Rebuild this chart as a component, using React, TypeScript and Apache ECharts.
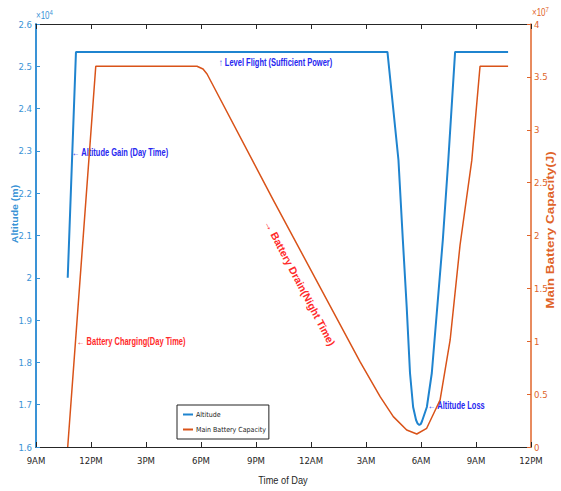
import React, { useEffect, useRef } from "react";
import * as echarts from "echarts";

// Hours after 9AM
const xTickLabels = ["9AM", "12PM", "3PM", "6PM", "9PM", "12AM", "3AM", "6AM", "9AM", "12PM"];

const altitudeHours = [1.73, 2.18, 19.17, 19.77, 20.01, 20.22, 20.4, 20.57, 20.73, 20.81, 20.91, 20.99, 21.06, 21.32, 21.59, 22.19, 22.49, 22.86, 25.75];
const altitudeMeters = [20000, 25340, 25340, 22785, 20894, 19310, 17749, 16946, 16638, 16556, 16520, 16544, 16615, 16946, 17749, 20894, 22785, 25340, 25340];

const batteryHours = [1.73, 3.26, 8.78, 9.11, 9.33, 12.93, 17.68, 18.77, 19.49, 20.22, 20.77, 21.31, 22.04, 22.59, 23.13, 23.77, 24.22, 25.75];
const batteryJoules = [0, 3.6e7, 3.6e7, 3.574e7, 3.527e7, 2.34e7, 0.804e7, 0.476e7, 0.287e7, 0.161e7, 0.123e7, 0.177e7, 0.444e7, 1.012e7, 1.91e7, 2.71e7, 3.6e7, 3.6e7];

const BLUE = "#1f84cf";
const BLUE_AX = "#3a93d6";
const ORANGE = "#d95319";
const ORANGE_AX = "#e0642a";
const ANN_BLUE = "#2626f0";
const ANN_RED = "#ff2a2a";
const NARROW = "'Liberation Sans Narrow', 'DejaVu Sans Condensed', sans-serif";
const WIDE = "'Liberation Sans', Arial, sans-serif";

function trim(v: number): string {
  const s = v.toFixed(1);
  return s.endsWith(".0") ? s.slice(0, -2) : s;
}

function ann(text: string, x: number, y: number, fill: string) {
  return {
    type: "text",
    x,
    y,
    scaleX: 0.75,
    style: { text, fill, font: `bold 10px ${WIDE}`, textAlign: "left", textVerticalAlign: "middle" },
  };
}

export default function App() {
  const ref = useRef<HTMLDivElement>(null);
  useEffect(() => {
    if (!ref.current) return;
    const chart = echarts.init(ref.current, null, { renderer: "svg" });
    const alt = altitudeHours.map((h, i) => [h, altitudeMeters[i]]);
    const bat = batteryHours.map((h, i) => [h, batteryJoules[i]]);
    const option: any = {
      animation: false,
      backgroundColor: "#ffffff",
      grid: { left: 36, right: 30, top: 24, bottom: 44, containLabel: false },
      legend: {
        left: 177,
        top: 405,
        orient: "vertical",
        backgroundColor: "#ffffff",
        borderColor: "#222",
        borderWidth: 1,
        borderRadius: 0,
        padding: [6, 3, 6, 6],
        itemGap: 8,
        itemWidth: 10,
        itemHeight: 2,
        icon: "rect",
        textStyle: { fontFamily: NARROW, fontSize: 7, color: "#222", padding: [0, 0, 0, -2] },
        data: ["Altitude", "Main Battery Capacity"],
      },
      xAxis: [
        {
          type: "value",
          min: 0,
          max: 27,
          interval: 3,
          position: "bottom",
          axisLine: { onZero: false, lineStyle: { color: "#262626", width: 1 } },
          axisTick: { inside: true, length: 5, lineStyle: { color: "#262626" } },
          axisLabel: {
            margin: 8,
            fontFamily: NARROW,
            fontSize: 9.5,
            color: "#262626",
            formatter: (v: number) => xTickLabels[Math.round(v / 3)] ?? "",
          },
          splitLine: { show: false },
        },
        {
          type: "value",
          min: 0,
          max: 27,
          interval: 3,
          position: "top",
          axisLine: { onZero: false, lineStyle: { color: "#262626", width: 1 } },
          axisTick: { inside: true, length: 5, lineStyle: { color: "#262626" } },
          axisLabel: { show: false },
          splitLine: { show: false },
        },
      ],
      yAxis: [
        {
          type: "value",
          min: 16000,
          max: 26000,
          interval: 1000,
          position: "left",
          axisLine: { show: true, onZero: false, lineStyle: { color: BLUE_AX, width: 2 } },
          axisTick: { show: true, inside: true, length: 4, lineStyle: { color: BLUE_AX } },
          axisLabel: {
            margin: 4,
            fontFamily: NARROW,
            fontSize: 9.5,
            color: BLUE_AX,
            formatter: (v: number) => trim(v / 1e4),
          },
          splitLine: { show: false },
        },
        {
          type: "value",
          min: 0,
          max: 4e7,
          interval: 5e6,
          position: "right",
          axisLine: { show: true, onZero: false, lineStyle: { color: ORANGE_AX, width: 1.5 } },
          axisTick: { show: true, inside: true, length: 4, lineStyle: { color: ORANGE_AX } },
          axisLabel: {
            margin: 3,
            fontFamily: NARROW,
            fontSize: 9.5,
            color: ORANGE_AX,
            formatter: (v: number) => trim(v / 1e7),
          },
          splitLine: { show: false },
        },
      ],
      series: [
        {
          name: "Altitude",
          type: "line",
          xAxisIndex: 0,
          yAxisIndex: 0,
          data: alt,
          showSymbol: false,
          smooth: false,
          color: BLUE,
          lineStyle: { color: BLUE, width: 2 },
          z: 3,
        },
        {
          name: "Main Battery Capacity",
          type: "line",
          xAxisIndex: 0,
          yAxisIndex: 1,
          data: bat,
          showSymbol: false,
          smooth: false,
          color: ORANGE,
          lineStyle: { color: ORANGE, width: 1.5 },
          z: 2,
        },
      ],
      graphic: [
        {
          type: "text",
          x: 36,
          y: 16,
          scaleX: 0.8,
          style: {
            text: "{b|×10}{s|4}",
            fill: BLUE_AX,
            textAlign: "left",
            textVerticalAlign: "middle",
            rich: {
              b: { fontFamily: WIDE, fontSize: 10, fill: BLUE_AX, color: BLUE_AX },
              s: { fontFamily: WIDE, fontSize: 7.5, fill: BLUE_AX, color: BLUE_AX, verticalAlign: "top", padding: [0, 0, 7, 0] },
            },
          },
        },
        {
          type: "text",
          x: 532,
          y: 13,
          scaleX: 0.8,
          style: {
            text: "{b|×10}{s|7}",
            fill: ORANGE_AX,
            textAlign: "left",
            textVerticalAlign: "middle",
            rich: {
              b: { fontFamily: WIDE, fontSize: 10, fill: ORANGE_AX, color: ORANGE_AX },
              s: { fontFamily: WIDE, fontSize: 7.5, fill: ORANGE_AX, color: ORANGE_AX, verticalAlign: "top", padding: [0, 0, 7, 0] },
            },
          },
        },
        {
          type: "text",
          x: 15,
          y: 214,
          rotation: Math.PI / 2,
          scaleY: 0.8,
          style: {
            text: "Altitude (m)",
            fill: BLUE_AX,
            font: `bold 10.5px ${WIDE}`,
            textAlign: "center",
            textVerticalAlign: "middle",
          },
        },
        {
          type: "text",
          x: 551,
          y: 230,
          rotation: Math.PI / 2,
          scaleY: 0.75,
          style: {
            text: "Main Battery Capacity(J)",
            fill: ORANGE_AX,
            font: `bold 13.5px ${WIDE}`,
            textAlign: "center",
            textVerticalAlign: "middle",
          },
        },
        {
          type: "text",
          x: 283,
          y: 480,
          scaleX: 0.84,
          style: {
            text: "Time of Day",
            fill: "#262626",
            font: `11px ${WIDE}`,
            textAlign: "center",
            textVerticalAlign: "middle",
          },
        },
        ann("↑ Level Flight (Sufficient Power)", 219, 63, ANN_BLUE),
        ann("← Altitude Gain (Day Time)", 72, 153, ANN_BLUE),
        ann("← Battery Charging(Day Time)", 77, 342, ANN_RED),
        ann("← Altitude Loss", 428, 405.5, ANN_BLUE),
        {
          type: "text",
          x: 267,
          y: 221,
          rotation: -1.087,
          style: { text: "→ Battery Drain(Night Time)", fill: ANN_RED, font: `bold 10.5px ${WIDE}`, textAlign: "left", textVerticalAlign: "middle" },
        },
      ],
    };
    chart.setOption(option);
    return () => chart.dispose();
  }, []);
  return (
    <div
      ref={ref}
      style={{ position: "fixed", left: 0, top: 0, width: 561, height: 491, background: "#fff" }}
    />
  );
}
